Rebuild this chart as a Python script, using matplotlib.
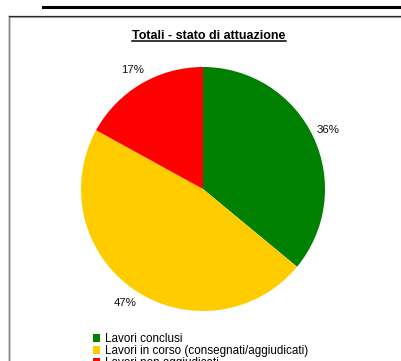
import matplotlib
matplotlib.use("Agg")
import matplotlib.pyplot as plt
from matplotlib.lines import Line2D

plt.rcParams['font.family'] = ['Liberation Sans', 'DejaVu Sans']

labels = ['Lavori conclusi', 'Lavori in corso (consegnati/aggiudicati)', 'Lavori non aggiudicati']
values = [36, 47, 17]
colors = ['#008000', '#FFCC00', '#FF0000']

W, H = 402, 361
fig = plt.figure(figsize=(W / 100, H / 100), dpi=100)
fig.patch.set_facecolor('white')

# pie axes (square box in pixels)
ax = fig.add_axes([81 / W, (H - 311) / H, 244 / W, 244 / H])
wedges, texts, autotexts = ax.pie(values, colors=colors, startangle=90, counterclock=False,
                                  autopct='%.0f%%', pctdistance=1.13, radius=1,
                                  textprops={'fontsize': 8.2, 'color': '#111111'})
ax.set_xlim(-1, 1)
ax.set_ylim(-1, 1)
ax.set_aspect('equal')
ax.axis('off')

# title with underline
fig.text(209 / W, 1 - 36 / H, 'Totali - stato di attuazione', ha='center', va='center',
         fontsize=9, fontweight='bold')
fig.add_artist(Line2D([132 / W, 286 / W], [1 - 40.5 / H, 1 - 40.5 / H], color='black', lw=1.1))

# frame lines
fig.add_artist(Line2D([43 / W, 1], [1 - 6.5 / H, 1 - 6.5 / H], color='black', lw=2.2))
fig.add_artist(Line2D([8.5 / W, 1], [1 - 15.5 / H, 1 - 15.5 / H], color='#222222', lw=0.9))
fig.add_artist(Line2D([8.5 / W, 1], [1 - 16.5 / H, 1 - 16.5 / H], color='#999999', lw=0.8))
fig.add_artist(Line2D([8.5 / W, 8.5 / W], [0, 1 - 15.5 / H], color='#222222', lw=1.0))
fig.add_artist(Line2D([9.5 / W, 9.5 / W], [0, 1 - 16.5 / H], color='#888888', lw=0.8))

fig.legend(wedges, labels, loc='upper left', bbox_to_anchor=(93 / W, 1 - 333 / H),
           frameon=False, fontsize=8.4, handlelength=0.62, handleheight=0.62,
           handletextpad=0.45, labelspacing=0.0, borderpad=0, borderaxespad=0)

fig.savefig('out.png', dpi=100)
